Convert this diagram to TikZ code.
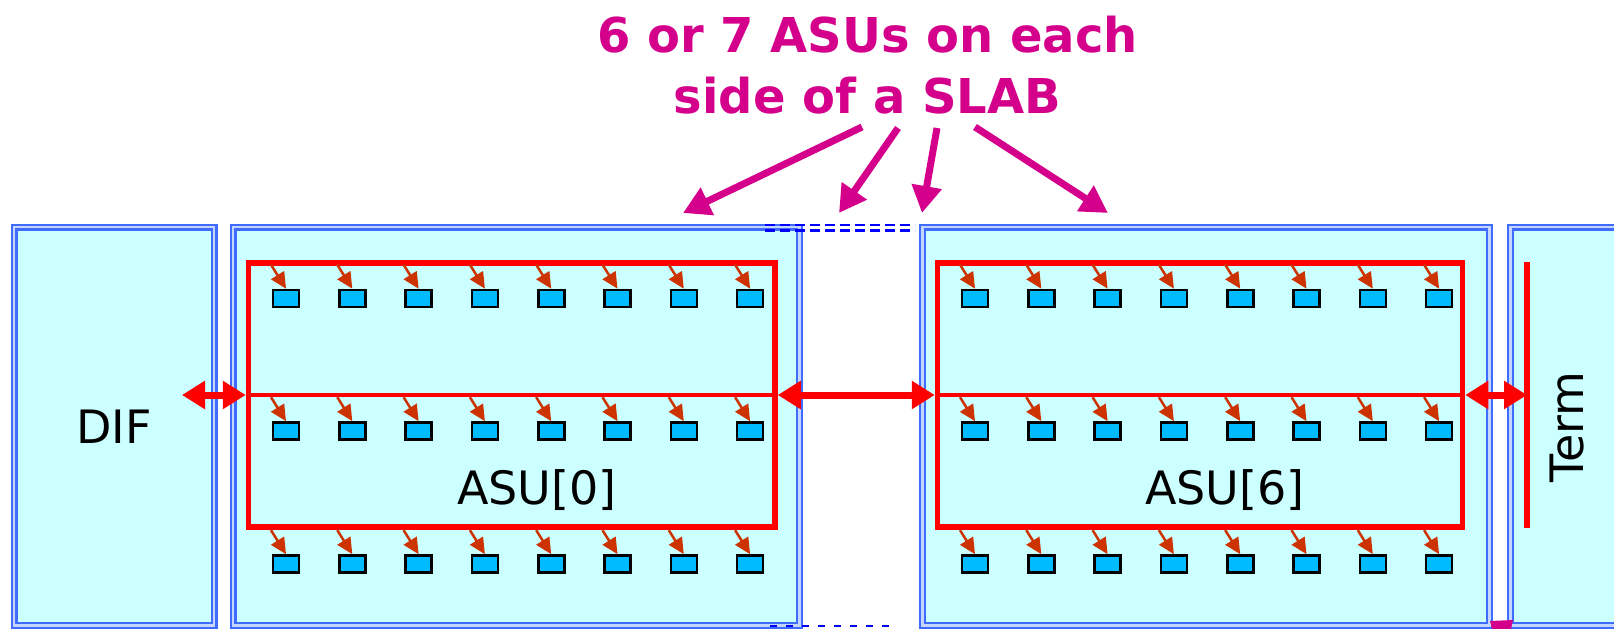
\documentclass[tikz,border=0pt]{standalone}
\usepackage{fontspec}
\setmainfont{DejaVu Sans}
\usetikzlibrary{arrows.meta}
\definecolor{slabfill}{HTML}{CCFFFF}
\definecolor{slabline}{HTML}{3F6BFF}
\definecolor{slabgap}{HTML}{C4D6FF}
\definecolor{cellfill}{HTML}{00BBFF}
\definecolor{pinred}{HTML}{CC3300}
\definecolor{notecol}{HTML}{D4008C}
\tikzset{
  slab/.style={draw=slabline, line width=2.4pt, double=slabgap, double distance=2.2pt,
    fill=slabfill, inner sep=0pt, font=\fontsize{46}{50}\selectfont},
  asu/.style={draw=red, line width=5.5pt, inner sep=0pt},
  cell/.style={draw=black, line width=2.6pt, fill=cellfill, inner sep=0pt,
    minimum width=26pt, minimum height=17pt},
  pin/.style={draw=pinred, line width=2.5pt, -{Triangle[length=16pt,width=15pt]}},
  link/.style={red, line width=7pt, {Triangle[length=23pt,width=27pt]}-{Triangle[length=23pt,width=27pt]}},
  callout/.style={notecol, line width=7pt, -{Triangle[length=27pt,width=29pt]}},
  gapdash/.style={blue, line width=2.2pt, dash pattern=on 10pt off 5pt},
  lbl/.style={font=\fontsize{46}{50}\selectfont}
}
\begin{document}
\begin{tikzpicture}[x=1pt,y=-1pt]
\useasboundingbox (0,0) rectangle (1614,629);
\clip (0,0) rectangle (1614,629);
% slabs
\node[slab, minimum width=200pt, minimum height=398.5pt] (dif) at (114,426.25) {DIF};
\node[slab, minimum width=566.5pt, minimum height=398.5pt] (slabA) at (516.25,426.25) {};
\node[slab, minimum width=567pt, minimum height=398.5pt] (slabB) at (1206,426.25) {};
\node[slab, minimum width=189.5pt, minimum height=398.5pt] (slabT) at (1605.25,426.25) {};
\draw[gapdash] (765,225) -- (915,225);
\draw[gapdash] (765,230.5) -- (915,230.5);
\draw[gapdash, dash pattern=on 7pt off 9pt] (770,626) -- (890,626);
% ASU frames and the bus through them
\node[asu, minimum width=526.5pt, minimum height=264pt] (asuA) at (511.75,395) {};
\node[asu, minimum width=525pt, minimum height=264pt] (asuB) at (1200,395) {};
\draw[red, line width=4pt] (asuA.west) -- (asuA.east);
\draw[red, line width=4pt] (asuB.west) -- (asuB.east);
\node[lbl] (asuAlbl) at (537,490) {ASU[0]};
\node[lbl] (asuBlbl) at (1225,490) {ASU[6]};
% term
\coordinate (termT) at (1527,262);
\coordinate (termB) at (1527,528);
\draw[red, line width=5.5pt] (termT) -- (termB);
\node[lbl, rotate=90] (termlbl) at (1567,427) {Term};
% cells
\foreach \g/\xs in {A/286,B/975} {
  \foreach \i in {0,...,7} {
    \foreach \r/\yy in {0/298.5,1/431,2/564} {
      \node[cell] (c\g\i\r) at ({\xs+66.3*\i},\yy) {};
      \draw[pin] ([shift={(-15pt,24pt)}]c\g\i\r.north) -- (c\g\i\r.north);
    }
  }
}
% links
\coordinate (difR) at (182,395);
\draw[link] (difR) -- (asuA.west);
\draw[link] (asuA.east) -- (asuB.west);
\draw[link] (asuB.east) -- (asuB.east -| termT);
% note
\node[notecol, font=\bfseries\fontsize{48}{61}\selectfont, align=center] (note) at (867.5,65)
  {6 or 7 ASUs on each\\side of a SLAB};
\coordinate (s1) at (862,127); \coordinate (t1) at (683,213);
\coordinate (s2) at (898,128); \coordinate (t2) at (839,213);
\coordinate (s3) at (937,128); \coordinate (t3) at (922,213);
\coordinate (s4) at (975,127); \coordinate (t4) at (1108,213);
\foreach \k in {1,...,4} \draw[callout] (s\k) -- (t\k);
\fill[notecol] (1490,621) -- (1513,620) -- (1511,629) -- (1492,629) -- cycle;
\end{tikzpicture}
\end{document}
